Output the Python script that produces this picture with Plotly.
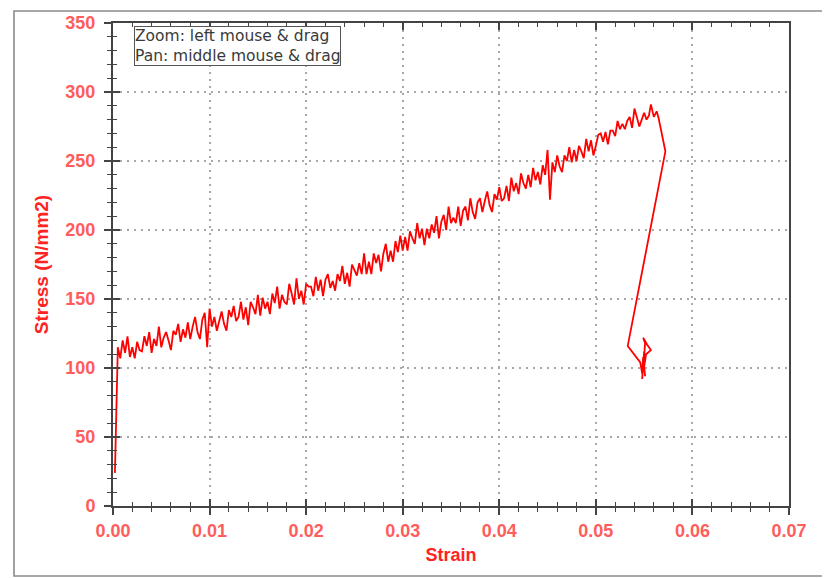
import plotly.graph_objects as go

# ---- data ----
rise_strain = [0.00020, 0.00030, 0.00040, 0.00045]
rise_stress = [24, 52, 80, 103]

ramp_strain = [
    0.00050, 0.00075, 0.00100, 0.00125, 0.00150, 0.00175, 0.00200, 0.00225, 0.00250, 0.00275,
    0.00300, 0.00325, 0.00350, 0.00375, 0.00400, 0.00425, 0.00450, 0.00475, 0.00500, 0.00525,
    0.00550, 0.00575, 0.00600, 0.00625, 0.00650, 0.00675, 0.00700, 0.00725, 0.00750, 0.00775,
    0.00800, 0.00825, 0.00850, 0.00875, 0.00900, 0.00925, 0.00950, 0.00975, 0.01000, 0.01025,
    0.01050, 0.01075, 0.01100, 0.01125, 0.01150, 0.01175, 0.01200, 0.01225, 0.01250, 0.01275,
    0.01300, 0.01325, 0.01350, 0.01375, 0.01400, 0.01425, 0.01450, 0.01475, 0.01500, 0.01525,
    0.01550, 0.01575, 0.01600, 0.01625, 0.01650, 0.01675, 0.01700, 0.01725, 0.01750, 0.01775,
    0.01800, 0.01825, 0.01850, 0.01875, 0.01900, 0.01925, 0.01950, 0.01975, 0.02000, 0.02025,
    0.02050, 0.02075, 0.02100, 0.02125, 0.02150, 0.02175, 0.02200, 0.02225, 0.02250, 0.02275,
    0.02300, 0.02325, 0.02350, 0.02375, 0.02400, 0.02425, 0.02450, 0.02475, 0.02500, 0.02525,
    0.02550, 0.02575, 0.02600, 0.02625, 0.02650, 0.02675, 0.02700, 0.02725, 0.02750, 0.02775,
    0.02800, 0.02825, 0.02850, 0.02875, 0.02900, 0.02925, 0.02950, 0.02975, 0.03000, 0.03025,
    0.03050, 0.03075, 0.03100, 0.03125, 0.03150, 0.03175, 0.03200, 0.03225, 0.03250, 0.03275,
    0.03300, 0.03325, 0.03350, 0.03375, 0.03400, 0.03425, 0.03450, 0.03475, 0.03500, 0.03525,
    0.03550, 0.03575, 0.03600, 0.03625, 0.03650, 0.03675, 0.03700, 0.03725, 0.03750, 0.03775,
    0.03800, 0.03825, 0.03850, 0.03875, 0.03900, 0.03925, 0.03950, 0.03975, 0.04000, 0.04025,
    0.04050, 0.04075, 0.04100, 0.04125, 0.04150, 0.04175, 0.04200, 0.04225, 0.04250, 0.04275,
    0.04300, 0.04325, 0.04350, 0.04375, 0.04400, 0.04425, 0.04450, 0.04475, 0.04500, 0.04525,
    0.04550, 0.04575, 0.04600, 0.04625, 0.04650, 0.04675, 0.04700, 0.04725, 0.04750, 0.04775,
    0.04800, 0.04825, 0.04850, 0.04875, 0.04900, 0.04925, 0.04950, 0.04975, 0.05000, 0.05025,
    0.05050, 0.05075, 0.05100, 0.05125, 0.05150, 0.05175, 0.05200, 0.05225, 0.05250, 0.05275,
    0.05300, 0.05325, 0.05350, 0.05375, 0.05400, 0.05425, 0.05450, 0.05475, 0.05500, 0.05525,
    0.05550, 0.05570, 0.05600, 0.05630, 0.05650,
]
ramp_stress = [
    115, 107, 120, 111, 123, 108, 115, 107, 119, 113,
    112, 123, 116, 126, 111, 121, 116, 130, 115, 122,
    126, 120, 113, 127, 124, 132, 119, 128, 122, 133,
    121, 130, 137, 126, 121, 135, 140, 115, 143, 130,
    137, 127, 135, 141, 132, 127, 142, 137, 145, 134,
    137, 148, 135, 144, 131, 148, 144, 139, 153, 138,
    151, 143, 148, 139, 154, 147, 159, 143, 153, 148,
    146, 161, 154, 146, 165, 150, 156, 146, 161, 159,
    159, 152, 166, 156, 164, 152, 164, 168, 158, 163,
    156, 168, 163, 174, 161, 169, 159, 175, 171, 167,
    176, 168, 183, 168, 177, 168, 183, 176, 182, 170,
    183, 190, 177, 185, 177, 192, 184, 196, 185, 195,
    185, 199, 194, 190, 205, 194, 201, 189, 201, 194,
    204, 198, 210, 194, 206, 211, 200, 217, 205, 209,
    205, 217, 203, 214, 217, 207, 223, 213, 208, 220,
    223, 213, 221, 228, 218, 213, 226, 222, 231, 221,
    223, 232, 221, 238, 228, 234, 226, 241, 234, 230,
    240, 231, 245, 236, 242, 233, 247, 240, 258, 222,
    249, 242, 254, 246, 242, 254, 250, 260, 249, 258,
    250, 261, 257, 252, 266, 257, 265, 254, 261, 269,
    270, 264, 271, 262, 272, 272, 268, 279, 273, 277,
    273, 279, 282, 274, 288, 282, 275, 280, 285, 280,
    283, 291, 282, 286, 281,
]

fracture_strain = [0.05720, 0.05330, 0.05460, 0.05480, 0.05490, 0.05480, 0.05500,
                   0.05490, 0.05510, 0.05490, 0.05530, 0.05570, 0.05520, 0.05500, 0.05510]
fracture_stress = [257, 116, 104, 96, 108, 92, 112, 99, 118, 122, 117, 113, 110, 101, 94]

x_ticks = [0.00, 0.01, 0.02, 0.03, 0.04, 0.05, 0.06, 0.07]
y_ticks = [0, 50, 100, 150, 200, 250, 300, 350]

strain = rise_strain + ramp_strain + fracture_strain
stress = rise_stress + ramp_stress + fracture_stress

FONT = "Liberation Sans, Arial, sans-serif"
TICK_RED = "#ff5c5c"
TITLE_RED = "#ff2222"
AX = "#444444"

# the page body adds an 8px offset; figure is sized/margined to compensate
W, H = 822, 570
L, T = 105, 15
PW, PH = 676, 483

fig = go.Figure()
fig.add_trace(go.Scatter(
    x=strain, y=stress, mode="lines",
    line=dict(color="#ff0000", width=1.8),
    showlegend=False, hoverinfo="skip",
))
# helper trace so the overlay axes (inside ticks) are drawn
fig.add_trace(go.Scatter(x=[], y=[], xaxis="x2", yaxis="y2",
                         showlegend=False, hoverinfo="skip"))

common_grid = dict(showgrid=True, gridcolor="#a8a8a8", gridwidth=1.6, griddash="2px,5px")

fig.update_layout(
    width=W, height=H,
    margin=dict(l=L, r=W - L - PW, t=T, b=H - T - PH, autoexpand=False),
    paper_bgcolor="white", plot_bgcolor="white",
    font=dict(family=FONT),
    xaxis=dict(
        range=[0, 0.07], tickvals=x_ticks, tickformat=".2f",
        ticks="outside", ticklen=7, tickwidth=1.5, tickcolor=AX,
        minor=dict(dtick=0.002, ticks="outside", ticklen=4, tickwidth=1.2, tickcolor=AX, showgrid=False),
        showline=True, linecolor=AX, linewidth=2, mirror=True, zeroline=False,
        tickfont=dict(size=18, color=TICK_RED, family=FONT, weight="bold"),
        title=dict(text="Strain", font=dict(size=18, color=TITLE_RED, family=FONT, weight="bold"), standoff=9),
        **common_grid,
    ),
    yaxis=dict(
        range=[0, 350], tickvals=y_ticks,
        ticks="outside", ticklen=7, tickwidth=1.5, tickcolor=AX,
        minor=dict(dtick=10, ticks="outside", ticklen=4, tickwidth=1.2, tickcolor=AX, showgrid=False),
        showline=True, linecolor=AX, linewidth=2, mirror=True, zeroline=False,
        tickfont=dict(size=18, color=TICK_RED, family=FONT, weight="bold"),
        ticklabelstandoff=5,
        title=dict(text="Stress (N/mm2)", font=dict(size=19, color=TITLE_RED, family=FONT, weight="bold"), standoff=12),
        **common_grid,
    ),
    xaxis2=dict(
        overlaying="x", anchor="y2", side="bottom", range=[0, 0.07], tickvals=x_ticks,
        ticks="inside", ticklen=7, tickwidth=1.5, tickcolor=AX, mirror="ticks",
        minor=dict(dtick=0.002, ticks="inside", ticklen=4, tickwidth=1.2, tickcolor=AX, showgrid=False),
        showticklabels=False, showgrid=False, zeroline=False, showline=False,
    ),
    yaxis2=dict(
        overlaying="y", anchor="x2", side="left", range=[0, 350], tickvals=y_ticks,
        ticks="inside", ticklen=7, tickwidth=1.5, tickcolor=AX,
        minor=dict(dtick=10, ticks="inside", ticklen=4, tickwidth=1.2, tickcolor=AX, showgrid=False),
        showticklabels=False, showgrid=False, zeroline=False, showline=False,
    ),
    shapes=[dict(
        type="rect", xref="paper", yref="paper",
        x0=(14 - 113) / PW, x1=(823 - 113) / PW,
        y0=(506 - 576) / PH, y1=(506 - 11) / PH,
        line=dict(color="#8a8a8a", width=1.6), fillcolor="rgba(0,0,0,0)", layer="below",
    )],
    annotations=[dict(
        xref="paper", yref="paper", x=(134 - 113) / PW, y=(506 - 26) / PH,
        xanchor="left", yanchor="top", align="left", showarrow=False,
        text="Zoom: left mouse &amp; drag<br>Pan: middle mouse &amp; drag",
        font=dict(family="DejaVu Sans, sans-serif", size=15.5, color="#3a3a3a"),
        bordercolor="#555555", borderwidth=1, borderpad=0, bgcolor="white",
    )],
)

fig.write_html("out.html")
